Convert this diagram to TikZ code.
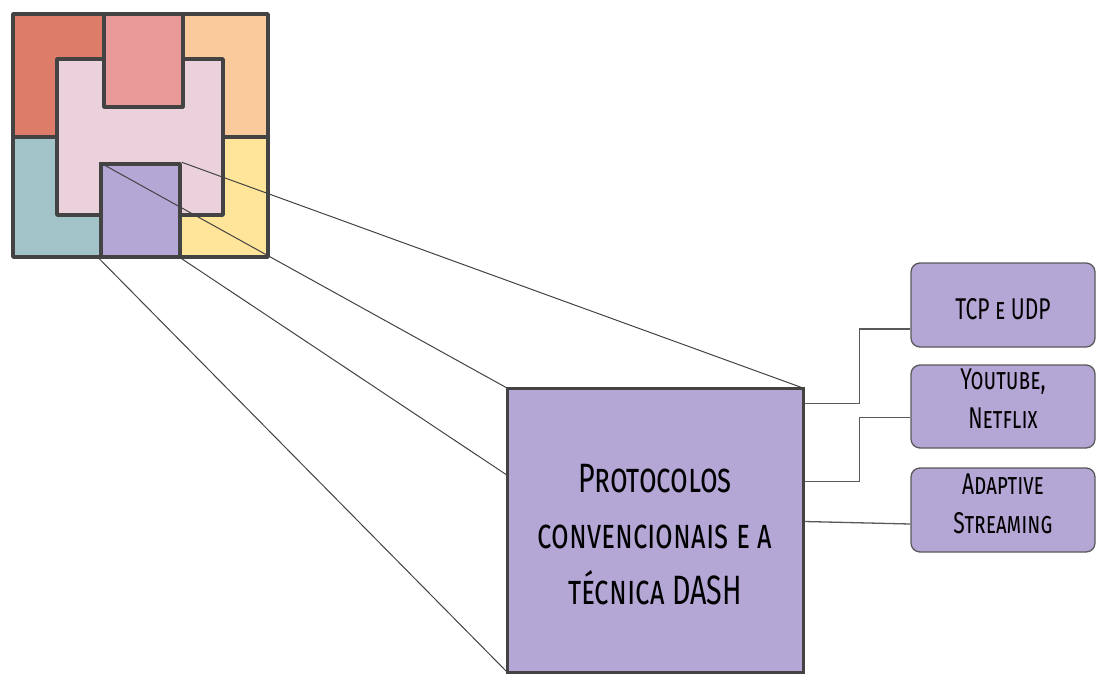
\documentclass[tikz,border=0pt]{standalone}
\usepackage{fontspec}
\usepackage{tikz}
\newfontfamily\amatic[Letters=SmallCaps,FakeStretch=0.7]{Fira Sans}

\definecolor{verm}{HTML}{DE7C6A}
\definecolor{rosa}{HTML}{EA9999}
\definecolor{laranja}{HTML}{F9CB9C}
\definecolor{rosaclaro}{HTML}{EAD1DC}
\definecolor{azul}{HTML}{A2C4C9}
\definecolor{amarelo}{HTML}{FFE599}
\definecolor{roxo}{HTML}{B4A7D6}
\definecolor{borda}{HTML}{434343}
\definecolor{linha}{HTML}{595959}

\begin{document}
\begin{tikzpicture}[x=1pt,y=-1pt,
	peca/.style={draw=borda,line width=3.5pt,line join=round},
	caixa/.style={draw=borda,line width=3pt,fill=roxo,minimum width=296pt,minimum height=284pt},
	texto/.style={align=center,inner sep=0pt,font=\amatic\fontsize{41}{56}\selectfont},
	tema/.style={draw=linha,line width=1.3pt,fill=roxo,rounded corners=9pt,minimum width=184pt,minimum height=84pt},
	tematxt/.style={align=center,inner sep=0pt,font=\amatic\fontsize{30}{38.5}\selectfont},
	zoom/.style={draw=borda,line width=1pt},
	conn/.style={draw=linha,line width=1.3pt}]
	\useasboundingbox (0,0) rectangle (1110,688);
	% quadrantes
	\fill[verm] (13,14) rectangle (104,137);
	\fill[laranja] (183,14) rectangle (268,137);
	\fill[azul] (13,137) rectangle (101,257);
	\fill[amarelo] (180,137) rectangle (268,257);
	\draw[peca] (13,137) -- (268,137);
	% peca em H
	\draw[peca,fill=rosaclaro] (57,59) -- (104,59) -- (104,107) -- (183,107) -- (183,59) -- (223,59)
		-- (223,215) -- (180,215) -- (180,164) -- (101,164) -- (101,215) -- (57,215) -- cycle;
	% peca de cima
	\draw[peca,fill=rosa] (104,14) rectangle (183,107);
	% peca de baixo
	\node[peca,fill=roxo,minimum width=79pt,minimum height=93pt,inner sep=0pt] (peca) at (140.5,210.5) {};
	% contorno
	\draw[peca] (13,14) rectangle (268,257);

	% linhas de zoom
	\draw[zoom] (peca.north west) -- (507,388);
	\draw[zoom] (peca.north east) -- (803,388);
	\draw[zoom] (peca.south west) -- (507,672);
	\draw[zoom] (peca.south east) -- (803,672);

	% caixa principal
	\node[caixa] (dash) at (655,530) {};
	\node[texto] (dashtxt) at ([yshift=-5pt]dash.center) {Protocolos\\convencionais e a\\técnica DASH};

	% temas
	\node[tema] (tcp) at (1003,305) {};
	\node[tematxt] (tcptxt) at ([yshift=-4pt]tcp.center) {TCP e UDP};
	\node[tema,minimum height=83pt] (yt) at (1003,406.5) {};
	\node[tematxt] (yttxt) at ([yshift=8pt]yt.center) {Youtube,\\Netflix};
	\node[tema] (adapt) at (1003,510) {};
	\node[tematxt] (adapttxt) at ([yshift=6pt]adapt.center) {Adaptive\\Streaming};

	%conectores
	\draw[conn] ([yshift=-17pt]dash.north east) -- ++(55,0) |- ([yshift=-24pt]tcp.west);
	\draw[conn] ([yshift=-95pt]dash.north east) -- ++(55,0) |- ([yshift=-11pt]yt.west);
	\draw[conn] ([yshift=-135pt]dash.north east) -- ([yshift=-14pt]adapt.west);
\end{tikzpicture}
\end{document}
